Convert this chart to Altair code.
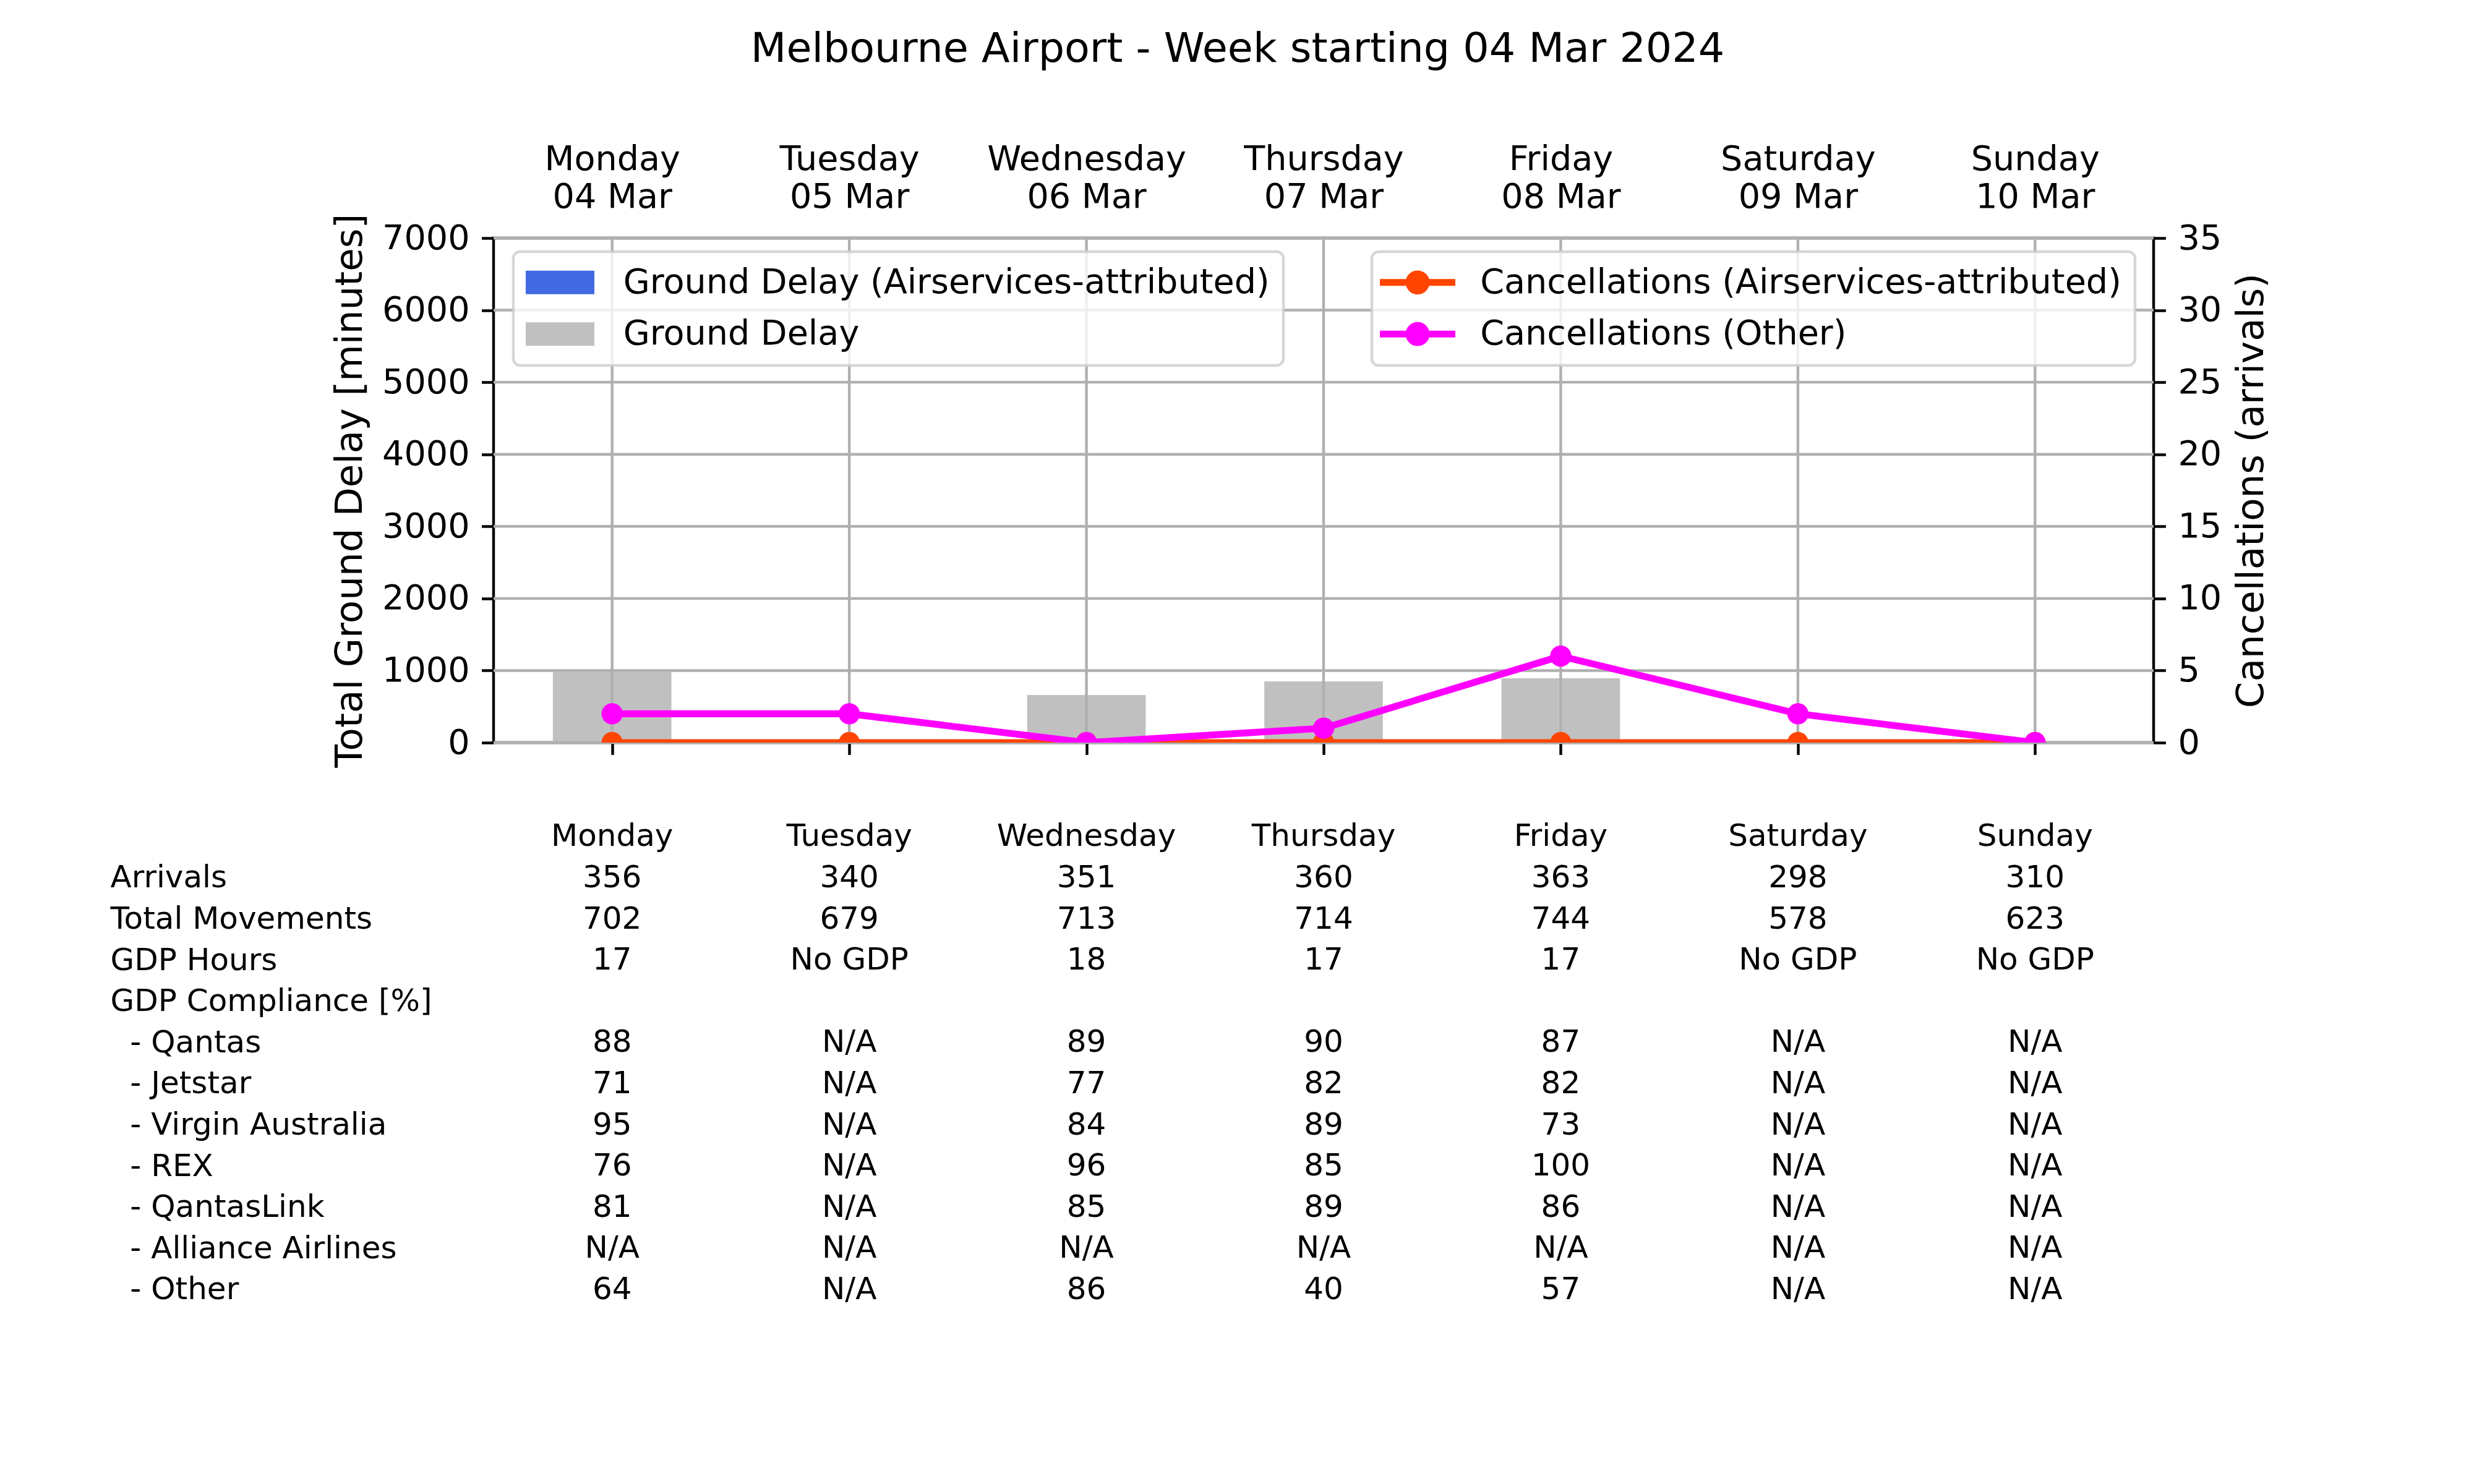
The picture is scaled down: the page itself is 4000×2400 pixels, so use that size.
import json
import altair as alt
import pandas as pd

# ---------------- data ----------------
days = ["Monday", "Tuesday", "Wednesday", "Thursday", "Friday", "Saturday", "Sunday"]
dates = ["04 Mar", "05 Mar", "06 Mar", "07 Mar", "08 Mar", "09 Mar", "10 Mar"]

ground_delay = [985, 0, 660, 849, 892, 0, 0]
ground_delay_airservices = [0, 0, 0, 0, 0, 0, 0]
cancellations_airservices = [0, 0, 0, 0, 0, 0, 0]
cancellations_other = [2, 2, 0, 1, 6, 2, 0]

delay_ticks = [0, 1000, 2000, 3000, 4000, 5000, 6000, 7000]
cancel_ticks = [0, 5, 10, 15, 20, 25, 30, 35]

bar_series = ["Ground Delay (Airservices-attributed)", "Ground Delay"]
bar_colors = ["#4169E1", "#C0C0C0"]
line_series = ["Cancellations (Airservices-attributed)", "Cancellations (Other)"]
line_colors = ["#FF4500", "#FF00FF"]

IND = "\u200b\u00a0\u00a0"   # indentation that survives text trimming
row_labels = ["Arrivals", "Total Movements", "GDP Hours", "GDP Compliance [%]",
              IND + "- Qantas", IND + "- Jetstar", IND + "- Virgin Australia", IND + "- REX",
              IND + "- QantasLink", IND + "- Alliance Airlines", IND + "- Other"]
arrivals = ["356", "340", "351", "360", "363", "298", "310"]
total_movements = ["702", "679", "713", "714", "744", "578", "623"]
gdp_hours = ["17", "No GDP", "18", "17", "17", "No GDP", "No GDP"]
gdp_compliance = ["", "", "", "", "", "", ""]
qantas = ["88", "N/A", "89", "90", "87", "N/A", "N/A"]
jetstar = ["71", "N/A", "77", "82", "82", "N/A", "N/A"]
virgin_australia = ["95", "N/A", "84", "89", "73", "N/A", "N/A"]
rex = ["76", "N/A", "96", "85", "100", "N/A", "N/A"]
qantaslink = ["81", "N/A", "85", "89", "86", "N/A", "N/A"]
alliance = ["N/A", "N/A", "N/A", "N/A", "N/A", "N/A", "N/A"]
other = ["64", "N/A", "86", "40", "57", "N/A", "N/A"]
table_values = [arrivals, total_movements, gdp_hours, gdp_compliance, qantas, jetstar,
                virgin_australia, rex, qantaslink, alliance, other]

# ---------------- styling constants ----------------
FONT = "DejaVu Sans"
PLOT_W, PLOT_H = 2684, 816
LW = 4.44
FS = 55.6          # 10 pt
LABEL_FS = 61.1    # 11 pt
TITLE_FS = 66.7    # 12 pt
TABLE_FS = 50.0    # 9 pt
ROW_STEP = 66.6
TICK = 19.4

# ---------------- tables ----------------
idx = list(range(len(days)))
bar_df = pd.DataFrame({
    "idx": idx * 2,
    "series": [bar_series[1]] * 7 + [bar_series[0]] * 7,
    "delay": ground_delay + ground_delay_airservices,
})
cancel_df = pd.DataFrame({
    "idx": idx * 2,
    "series": [line_series[0]] * 7 + [line_series[1]] * 7,
    "count": cancellations_airservices + cancellations_other,
})
records = [{"row": 0, "idx": j, "text": d} for j, d in enumerate(days)]
for i, vals in enumerate(table_values, start=1):
    for j, v in enumerate(vals):
        if v:
            records.append({"row": i, "idx": j, "text": v})
table_df = pd.DataFrame(records)

xscale = alt.Scale(domain=[-0.5, 6.5], nice=False, zero=False)
yleft = alt.Scale(domain=[0, 7000], nice=False)
yright = alt.Scale(domain=[0, 35], nice=False)

legend_common = dict(
    title=None, orient="none", legendY=22, symbolSize=1600,
    labelFontSize=FS, labelFont=FONT, labelColor="black", labelLimit=3000, padding=22,
    fillColor="rgba(255,255,255,0.8)", strokeColor="rgba(204,204,204,0.8)", cornerRadius=11,
)

# ---------------- bars + grid ----------------
bar_legend = alt.Legend(
    legendX=32, symbolType="M-2.775,-0.95H2.775V0.95H-2.775Z", symbolStrokeWidth=0,
    symbolOffset=25.7, labelOffset=74.4, rowPadding=26.4, **legend_common)
bars = alt.Chart(bar_df).transform_calculate(
    x0="datum.idx - 0.25", x1="datum.idx + 0.25", base="0"
).mark_bar(clip=True).encode(
    x=alt.X("x0:Q", scale=xscale, axis=alt.Axis(
        values=idx, labels=False, ticks=True, tickSize=TICK, domain=False, grid=False, title=None)),
    x2="x1:Q",
    y=alt.Y("delay:Q", stack=None, scale=yleft, axis=alt.Axis(
        values=delay_ticks, format="d", grid=False, domain=False, tickSize=TICK, labelPadding=19.6,
        labelFontSize=FS, title="Total Ground Delay [minutes]", titleFontSize=LABEL_FS,
        titlePadding=20, labelLimit=1000)),
    y2="base:Q",
    color=alt.Color("series:N", scale=alt.Scale(domain=bar_series, range=bar_colors), legend=bar_legend),
)
xgrid = alt.Chart(pd.DataFrame({"idx": idx})).mark_rule(color="#b0b0b0", strokeWidth=LW).encode(
    x=alt.X("idx:Q", scale=xscale, axis=None))
ygrid = alt.Chart(pd.DataFrame({"tick": delay_ticks})).mark_rule(color="#b0b0b0", strokeWidth=LW).encode(
    y=alt.Y("tick:Q", scale=yleft, axis=None))

# ---------------- cancellations ----------------
# legend handle: a thick line with a filled circular marker, built from thin strokes
def _circle(r):
    return f"M{-r},0A{r},{r},0,1,0,{r},0A{r},{r},0,1,0,{-r},0"

line_symbol = ("M-3.05,-0.185H3.05M-3.05,0H3.05M-3.05,0.185H3.05"
               + "".join(_circle(r) for r in (0.0925, 0.26, 0.4275, 0.595, 0.7625, 0.8775)))
line_legend = alt.Legend(
    legendX=1420, symbolType=line_symbol, symbolStrokeWidth=3.7,
    symbolOffset=24.2, labelOffset=73.4, rowPadding=26.4, **legend_common)
stroke_scale = alt.Scale(domain=line_series, range=line_colors)
top_axis = alt.Axis(
    orient="top", values=idx, ticks=False, tickSize=0, domain=False, grid=False, title=None,
    labelExpr=f"[{json.dumps(days)}[datum.value], {json.dumps(dates)}[datum.value]]",
    labelFontSize=FS, labelLineHeight=61, labelPadding=99, labelLimit=1000, labelFlush=False)
right_axis = alt.Axis(
    orient="right", values=cancel_ticks, grid=False, domain=False, tickSize=TICK, labelPadding=19.6,
    labelFontSize=FS, title="Cancellations (arrivals)", titleFontSize=LABEL_FS,
    titleAngle=270, titleBaseline="top", titlePadding=19, labelLimit=1000)

layers = [bars, xgrid, ygrid]
for k, name in enumerate(line_series):
    src = alt.Chart(cancel_df).transform_filter(alt.datum.series == name)
    first = k == 0
    line = src.mark_line(strokeWidth=11.1, clip=True).encode(
        x=alt.X("idx:Q", scale=xscale, axis=top_axis if first else None),
        y=alt.Y("count:Q", scale=yright, axis=right_axis if first else None),
        stroke=alt.Stroke("series:N", scale=stroke_scale, legend=line_legend),
    )
    pts = src.mark_circle(size=1182, opacity=1, color=line_colors[k], clip=True).encode(
        x=alt.X("idx:Q", scale=xscale, axis=None),
        y=alt.Y("count:Q", scale=yright, axis=None),
    )
    layers += [line, pts]

top = alt.layer(*layers).resolve_scale(y="independent").resolve_axis(
    x="independent", y="independent"
).properties(
    width=PLOT_W, height=PLOT_H,
    view=alt.ViewBackground(stroke="black", strokeWidth=LW),
    title=alt.TitleParams(
        "Melbourne Airport - Week starting 04 Mar 2024", fontSize=TITLE_FS, font=FONT,
        fontWeight="normal", color="black", anchor="middle", frame="group", dx=-139,
        offset=116, baseline="top"),
)

# ---------------- table ----------------
table = alt.Chart(table_df).mark_text(
    font=FONT, fontSize=TABLE_FS, color="black", align="center", baseline="middle"
).encode(
    x=alt.X("idx:Q", scale=xscale, axis=None),
    y=alt.Y("row:Q", scale=alt.Scale(domain=[-0.5, 11.5], nice=False, zero=False, reverse=True),
            axis=alt.Axis(values=list(range(1, 12)),
                          labelExpr=f"{json.dumps([''] + row_labels)}[datum.value]",
                          ticks=False, tickSize=0, domain=False, grid=False, title=None,
                          labelAlign="left", labelPadding=620, labelFontSize=TABLE_FS,
                          labelLimit=1000, labelBaseline="middle")),
    text="text:N",
).properties(width=PLOT_W, height=12 * ROW_STEP)

chart = alt.vconcat(top, table, spacing=75).properties(
    padding={"left": 169, "top": 37, "right": 40, "bottom": 40}
).configure_view(stroke="transparent").configure_axis(
    labelFont=FONT, titleFont=FONT, labelColor="black", titleColor="black",
    titleFontWeight="normal", tickColor="black", tickWidth=LW, labelFlush=False,
).configure_legend(strokeWidth=LW).configure_text(font=FONT)

chart.save("out.html", embed_options={"renderer": "svg", "actions": False})
